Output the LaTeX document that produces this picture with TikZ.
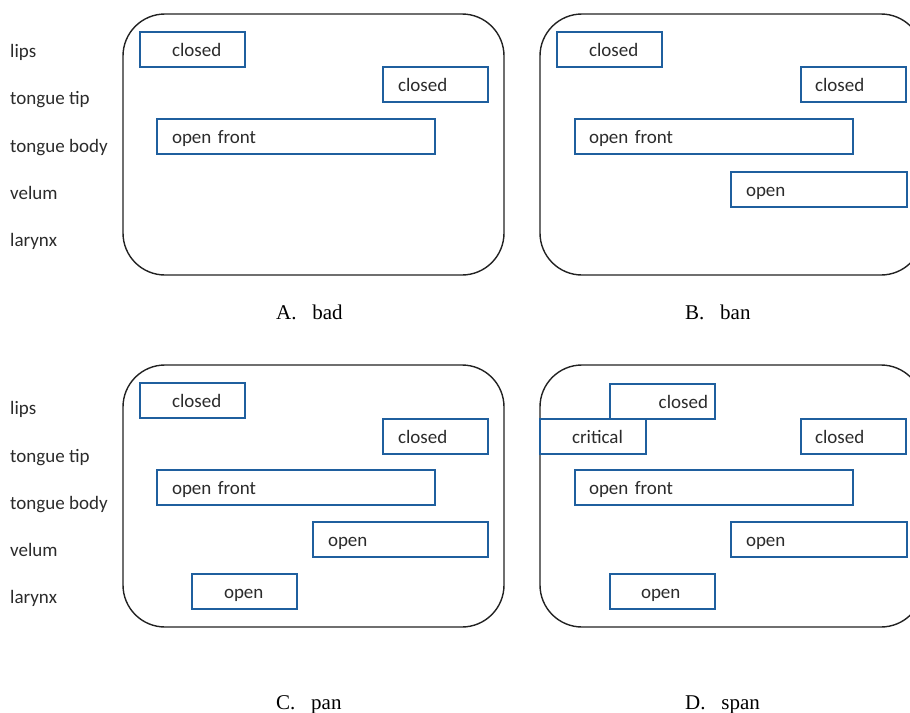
\documentclass[tikz,border=0pt]{standalone}
\usepackage{fontspec}
\setmainfont{Liberation Serif}
\newfontfamily\labelfont{Carlito}
\usetikzlibrary{positioning}
\definecolor{gestcol}{HTML}{1F5F9E}
\definecolor{panelcol}{HTML}{222222}
\definecolor{txtcol}{HTML}{2B2B2B}

\begin{document}
\begin{tikzpicture}[
    x=1pt, y=-1pt,
    panel/.style={
        draw=panelcol, line width=1.4pt, rounded corners=42pt
    },
    gest/.style={
        draw=gestcol, line width=1.8pt, anchor=north west, outer sep=0pt,
        minimum height=35pt, inner ysep=0pt, align=left,
        text height=14pt, text depth=0pt, text=txtcol,
        font=\labelfont\fontsize{19}{20}\selectfont
    },
    tier/.style={
        anchor=west, inner sep=0pt, text height=14pt, text depth=0pt,
        text=txtcol, font=\labelfont\fontsize{19}{20}\selectfont
    },
    caption/.style={
        anchor=base west, inner sep=0pt, text=black,
        font=\fontsize{21}{24}\selectfont
    },
]
\useasboundingbox (0,0) rectangle (910,712);

% ── Panels ──
\draw[panel] (123,14)  rectangle (504,275);
\draw[panel] (540,14)  rectangle (923,275);
\draw[panel] (123,365) rectangle (504,627);
\draw[panel] (540,365) rectangle (923,627);

% ── Tier labels ──
\node[tier] (top-lips)  at (10,50)  {lips};
\node[tier] (top-tip)   at (10,97)  {tongue tip};
\node[tier] (top-body)  at (10,145) {tongue body};
\node[tier] (top-velum) at (10,192) {velum};
\node[tier] (top-lar)   at (10,239) {larynx};

\node[tier] (bot-lips)  at (10,407) {lips};
\node[tier] (bot-tip)   at (10,455) {tongue tip};
\node[tier] (bot-body)  at (10,502) {tongue body};
\node[tier] (bot-velum) at (10,549) {velum};
\node[tier] (bot-lar)   at (10,596) {larynx};

% ── A. bad ──
\node[gest, inner xsep=32pt, text width=41pt]  (a-lips) at (140,32)  {closed};
\node[gest, inner xsep=15pt, text width=75pt]  (a-tip)  at (383,67)  {closed};
\node[gest, inner xsep=15pt, text width=248pt] (a-body) at (157,119) {open front};

% ── B. ban ──
\node[gest, inner xsep=32pt, text width=41pt]  (b-lips)  at (557,32)  {closed};
\node[gest, inner xsep=14pt, text width=77pt]  (b-tip)   at (801,67)  {closed};
\node[gest, inner xsep=14pt, text width=250pt] (b-body)  at (575,119) {open front};
\node[gest, inner xsep=15pt, text width=146pt] (b-velum) at (731,172) {open};

% ── C. pan ──
\node[gest, inner xsep=32pt, text width=41pt]  (c-lips)  at (140,383) {closed};
\node[gest, inner xsep=15pt, text width=75pt]  (c-tip)   at (383,419) {closed};
\node[gest, inner xsep=15pt, text width=248pt] (c-body)  at (157,470) {open front};
\node[gest, inner xsep=15pt, text width=145pt] (c-velum) at (313,522) {open};
\node[gest, inner xsep=32pt, text width=41pt]  (c-lar)   at (192,574) {open};

% ── D. span ──
\node[gest, inner xsep=7pt, text width=91pt, align=right]
    (d-lips) at (610,384) {closed};
\node[gest, inner xsep=32pt, text width=42pt]  (d-crit)  at (540,419) {critical};
\node[gest, inner xsep=14pt, text width=77pt]  (d-tip)   at (801,419) {closed};
\node[gest, inner xsep=14pt, text width=250pt] (d-body)  at (575,470) {open front};
\node[gest, inner xsep=15pt, text width=146pt] (d-velum) at (731,522) {open};
\node[gest, inner xsep=31pt, text width=43pt]  (d-lar)   at (610,574) {open};

% ── Captions ──
\node[caption] (cap-a) at (276,319) {A.\hspace{0.75em}bad};
\node[caption] (cap-b) at (685,319) {B.\hspace{0.75em}ban};
\node[caption] (cap-c) at (276,709) {C.\hspace{0.75em}pan};
\node[caption] (cap-d) at (685,709) {D.\hspace{0.75em}span};

\end{tikzpicture}
\end{document}
